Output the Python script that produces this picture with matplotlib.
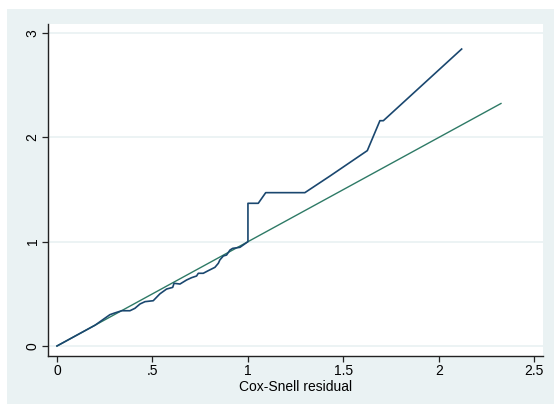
import numpy as np
import matplotlib.pyplot as plt

plt.rcParams['font.family'] = ['Liberation Sans', 'DejaVu Sans']

# Cox-Snell residuals vs. Nelson-Aalen cumulative hazard
cs_resid = [0.0, 0.05, 0.10, 0.15, 0.20, 0.243, 0.277, 0.30, 0.339, 0.382,
            0.408, 0.435, 0.461, 0.504, 0.539, 0.574, 0.606, 0.613, 0.644,
            0.679, 0.705, 0.731, 0.740, 0.766, 0.792, 0.827, 0.845, 0.853,
            0.871, 0.888, 0.906, 0.920, 0.958, 1.0, 1.0,
            1.054, 1.093, 1.298, 1.43, 1.625, 1.691, 1.709, 2.119]
cum_hazard = [0.0, 0.05, 0.10, 0.15, 0.20, 0.256, 0.300, 0.315, 0.338, 0.338,
              0.361, 0.403, 0.425, 0.434, 0.500, 0.546, 0.562, 0.601, 0.594,
              0.633, 0.655, 0.671, 0.697, 0.697, 0.722, 0.754, 0.793, 0.825,
              0.863, 0.872, 0.920, 0.936, 0.946, 1.0, 1.368,
              1.368, 1.47, 1.47, 1.63, 1.873, 2.16, 2.16, 2.847]

# 45-degree reference line
ref_x = [0.0, 2.325]
ref_y = [0.0, 2.325]

x_ticks = [0, 0.5, 1, 1.5, 2, 2.5]
x_labels = ['0', '.5', '1', '1.5', '2', '2.5']
y_ticks = [0, 1, 2, 3]
y_labels = ['0', '1', '2', '3']

W, H = 554, 404
fig = plt.figure(figsize=(W / 100, H / 100), dpi=100, facecolor='white')

# graph region background
bg = fig.add_axes([7 / W, 0, 1 - 7 / W, (H - 9) / H], zorder=-1)
bg.set_facecolor('#eaf2f3')
bg.set_xticks([])
bg.set_yticks([])
for s in bg.spines.values():
    s.set_visible(False)

ax = fig.add_axes([48 / W, 48 / H, (543 - 48) / W, (356 - 24) / H])
ax.set_facecolor('white')

ax.plot(cs_resid, cum_hazard, color='#1a476f', lw=1.2, zorder=3)
ax.plot(ref_x, ref_y, color='#2e7a66', lw=1.0, zorder=2)

ax.set_xlim(-0.047, 2.545)
ax.set_ylim(-0.096, 3.087)

ax.set_xticks(x_ticks)
ax.set_xticklabels(x_labels)
ax.set_yticks(y_ticks)
ax.set_yticklabels(y_labels, rotation=90, va='center')

for yv in y_ticks:
    ax.axhline(yv, color='#eaf2f3', lw=1.3, zorder=1)

for side in ['top', 'right']:
    ax.spines[side].set_visible(False)
for side in ['left', 'bottom']:
    ax.spines[side].set_color('#222222')
    ax.spines[side].set_linewidth(1.0)

ax.tick_params(axis='both', direction='out', length=4, width=0.9,
               color='#222222', labelsize=10, labelcolor='black', pad=2)

ax.set_xlabel('Cox-Snell residual', fontsize=10, labelpad=1)

fig.savefig('out.png', dpi=100, facecolor=fig.get_facecolor())
